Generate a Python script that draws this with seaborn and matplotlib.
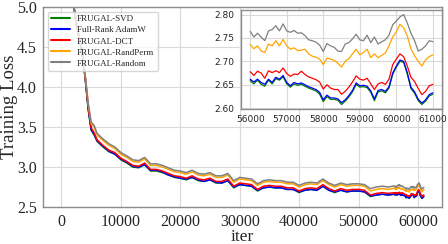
import numpy as np
import pandas as pd
import matplotlib
matplotlib.use("Agg")
import matplotlib.pyplot as plt
import seaborn as sns

# ---------------- data ----------------
labels = ["FRUGAL-SVD", "Full-Rank AdamW", "FRUGAL-DCT", "FRUGAL-RandPerm", "FRUGAL-Random"]
colors = ["green", "blue", "red", "orange", "gray"]

iters_early = [0, 500, 1000, 1500, 2000, 2500, 3000, 3500, 4000, 4500, 5000, 5500]
iters_mid = list(range(6000, 56000, 1000))
iters_fine = list(range(56000, 61001, 100))

svd_early = [10.9, 9.4, 7.7, 6.1, 5.05, 4.78, 4.60, 4.42, 4.10, 3.72, 3.46, 3.40]
adamw_early = [10.9, 9.4, 7.7, 6.1, 5.06, 4.79, 4.61, 4.43, 4.11, 3.73, 3.47, 3.41]
dct_early = [10.9, 9.4, 7.7, 6.1, 5.06, 4.79, 4.61, 4.43, 4.12, 3.75, 3.49, 3.43]
randperm_early = [10.9, 9.4, 7.7, 6.1, 5.07, 4.80, 4.62, 4.45, 4.14, 3.79, 3.54, 3.50]
random_early = [10.9, 9.4, 7.7, 6.1, 5.07, 4.80, 4.63, 4.46, 4.15, 3.80, 3.56, 3.52]

svd_mid = [3.32, 3.25, 3.19, 3.16, 3.09, 3.05, 3.00, 2.99, 3.03, 2.95, 2.95, 2.93, 2.90, 2.87,
           2.86, 2.84, 2.87, 2.83, 2.82, 2.84, 2.80, 2.80, 2.83, 2.74, 2.78, 2.77, 2.76, 2.70,
           2.74, 2.75, 2.74, 2.74, 2.72, 2.72, 2.68, 2.71, 2.72, 2.71, 2.76, 2.71, 2.68, 2.71,
           2.69, 2.70, 2.70, 2.69, 2.63, 2.65, 2.66, 2.65]
adamw_mid = [3.33, 3.26, 3.20, 3.16, 3.10, 3.06, 3.01, 3.00, 3.03, 2.96, 2.96, 2.94, 2.90, 2.88,
             2.86, 2.85, 2.87, 2.84, 2.82, 2.84, 2.81, 2.80, 2.83, 2.75, 2.78, 2.77, 2.76, 2.71,
             2.74, 2.75, 2.74, 2.74, 2.72, 2.72, 2.69, 2.71, 2.72, 2.71, 2.76, 2.71, 2.69, 2.71,
             2.69, 2.70, 2.70, 2.69, 2.64, 2.65, 2.66, 2.65]
dct_mid = [3.34, 3.27, 3.21, 3.18, 3.11, 3.07, 3.02, 3.01, 3.05, 2.97, 2.97, 2.95, 2.92, 2.89,
           2.88, 2.86, 2.89, 2.85, 2.84, 2.86, 2.82, 2.82, 2.85, 2.76, 2.80, 2.79, 2.78, 2.72,
           2.76, 2.77, 2.76, 2.76, 2.74, 2.74, 2.70, 2.73, 2.74, 2.73, 2.78, 2.73, 2.70, 2.73,
           2.71, 2.72, 2.72, 2.71, 2.65, 2.67, 2.68, 2.67]
randperm_mid = [3.40, 3.33, 3.27, 3.23, 3.16, 3.12, 3.07, 3.06, 3.10, 3.02, 3.02, 3.00, 2.97, 2.94,
                2.93, 2.91, 2.94, 2.90, 2.89, 2.91, 2.87, 2.87, 2.90, 2.81, 2.85, 2.84, 2.83, 2.77,
                2.81, 2.82, 2.81, 2.81, 2.79, 2.79, 2.75, 2.78, 2.79, 2.78, 2.83, 2.78, 2.75, 2.78,
                2.76, 2.77, 2.77, 2.76, 2.70, 2.72, 2.73, 2.72]
random_mid = [3.42, 3.35, 3.29, 3.25, 3.18, 3.14, 3.09, 3.08, 3.12, 3.04, 3.04, 3.02, 2.99, 2.96,
              2.95, 2.93, 2.96, 2.92, 2.91, 2.93, 2.89, 2.89, 2.92, 2.83, 2.87, 2.86, 2.85, 2.79,
              2.83, 2.84, 2.83, 2.83, 2.81, 2.81, 2.77, 2.80, 2.81, 2.80, 2.85, 2.80, 2.77, 2.80,
              2.78, 2.79, 2.79, 2.78, 2.73, 2.75, 2.76, 2.75]

svd_fine = [2.659, 2.652, 2.660, 2.651, 2.647, 2.660, 2.652, 2.663, 2.660, 2.667, 2.652, 2.645, 2.652,
            2.649, 2.651, 2.647, 2.643, 2.640, 2.637, 2.630, 2.614, 2.625, 2.619, 2.619, 2.617, 2.608,
            2.615, 2.624, 2.635, 2.651, 2.645, 2.646, 2.644, 2.634, 2.616, 2.635, 2.637, 2.633, 2.643,
            2.672, 2.688, 2.700, 2.698, 2.673, 2.642, 2.632, 2.616, 2.608, 2.615, 2.626, 2.630]
adamw_fine = [2.662, 2.656, 2.662, 2.655, 2.651, 2.662, 2.655, 2.666, 2.662, 2.670, 2.655, 2.648, 2.655,
              2.652, 2.654, 2.650, 2.646, 2.643, 2.640, 2.634, 2.618, 2.628, 2.622, 2.622, 2.620, 2.612,
              2.618, 2.627, 2.638, 2.654, 2.648, 2.649, 2.647, 2.637, 2.620, 2.638, 2.640, 2.636, 2.646,
              2.675, 2.690, 2.703, 2.700, 2.676, 2.645, 2.635, 2.619, 2.611, 2.618, 2.629, 2.633]
dct_fine = [2.678, 2.670, 2.679, 2.675, 2.664, 2.680, 2.676, 2.680, 2.676, 2.686, 2.674, 2.668, 2.673,
            2.672, 2.679, 2.672, 2.667, 2.664, 2.661, 2.656, 2.641, 2.650, 2.643, 2.640, 2.640, 2.630,
            2.636, 2.645, 2.656, 2.669, 2.662, 2.660, 2.664, 2.652, 2.640, 2.652, 2.655, 2.651, 2.662,
            2.693, 2.705, 2.716, 2.710, 2.690, 2.666, 2.657, 2.642, 2.629, 2.636, 2.648, 2.651]
randperm_fine = [2.736, 2.727, 2.733, 2.722, 2.719, 2.737, 2.733, 2.744, 2.733, 2.747, 2.733, 2.726, 2.729,
                 2.723, 2.724, 2.726, 2.716, 2.711, 2.709, 2.705, 2.693, 2.707, 2.705, 2.702, 2.696, 2.688,
                 2.700, 2.706, 2.716, 2.726, 2.714, 2.719, 2.726, 2.708, 2.716, 2.708, 2.713, 2.718, 2.733,
                 2.752, 2.763, 2.779, 2.772, 2.754, 2.727, 2.712, 2.700, 2.690, 2.703, 2.710, 2.714]
random_fine = [2.764, 2.752, 2.760, 2.752, 2.744, 2.765, 2.768, 2.776, 2.765, 2.780, 2.765, 2.762, 2.766,
               2.760, 2.761, 2.755, 2.746, 2.744, 2.741, 2.735, 2.721, 2.738, 2.733, 2.730, 2.722, 2.721,
               2.737, 2.740, 2.748, 2.758, 2.746, 2.744, 2.756, 2.740, 2.752, 2.737, 2.742, 2.746, 2.756,
               2.778, 2.786, 2.795, 2.800, 2.782, 2.760, 2.744, 2.722, 2.726, 2.733, 2.744, 2.742]

series = {
    "FRUGAL-SVD": (svd_early, svd_mid, svd_fine),
    "Full-Rank AdamW": (adamw_early, adamw_mid, adamw_fine),
    "FRUGAL-DCT": (dct_early, dct_mid, dct_fine),
    "FRUGAL-RandPerm": (randperm_early, randperm_mid, randperm_fine),
    "FRUGAL-Random": (random_early, random_mid, random_fine),
}

rows = []
for name, (e, m, f) in series.items():
    xs = iters_early + iters_mid + iters_fine
    ys = e + m + f
    for x, y in zip(xs, ys):
        rows.append((name, x, y))
df = pd.DataFrame(rows, columns=["method", "iter", "loss"])
df_fine = df[df["iter"] >= 56000]

palette = dict(zip(labels, colors))

# ---------------- plot ----------------
sns.set_style("whitegrid", {"grid.color": "#d9d9d9", "axes.edgecolor": "#8c8c8c"})
serif = ["Liberation Serif", "DejaVu Serif"]

fig = plt.figure(figsize=(4.48, 2.44), dpi=100)
ax = fig.add_axes([0.0967, 0.1516, 0.8899, 0.8197])

sns.lineplot(data=df, x="iter", y="loss", hue="method", hue_order=labels, palette=palette,
             estimator=None, sort=False, linewidth=1.1, ax=ax)
ax.set_ylim(2.5, 5.0)
ax.set_yticks([2.5, 3.0, 3.5, 4.0, 4.5, 5.0])
ax.set_xticks([0, 10000, 20000, 30000, 40000, 50000, 60000])
ax.set_xlabel("iter", fontsize=12.5, family=serif, labelpad=-1)
ax.set_ylabel("Training Loss", fontsize=13.5, family=serif)
ax.yaxis.set_label_coords(-0.063, 0.5)
for lab in ax.get_xticklabels() + ax.get_yticklabels():
    lab.set_fontfamily(serif)
    lab.set_fontsize(11.5)
ax.tick_params(axis="x", pad=1.5)
ax.tick_params(axis="y", pad=1.0)
for sp in ax.spines.values():
    sp.set_linewidth(1.0)

leg = ax.legend(loc="upper left", prop={"family": serif, "size": 6.5}, labelspacing=0.3,
                handlelength=2.0, borderpad=0.4, frameon=True, bbox_to_anchor=(0.0, 1.0))
for line in leg.get_lines():
    line.set_linewidth(1.5)

# inset
axins = ax.inset_axes([0.496, 0.49, 0.504, 0.495])
sns.lineplot(data=df_fine, x="iter", y="loss", hue="method", hue_order=labels, palette=palette,
             estimator=None, sort=False, linewidth=0.9, ax=axins, legend=False)
axins.set_xlabel("")
axins.set_ylabel("")
axins.set_yticks([2.60, 2.65, 2.70, 2.75, 2.80])
axins.set_yticklabels(["2.60", "2.65", "2.70", "2.75", "2.80"])
axins.set_xticks([56000, 57000, 58000, 59000, 60000, 61000])
axins.tick_params(axis="both", labelsize=6.5, pad=1)
for lab in axins.get_xticklabels() + axins.get_yticklabels():
    lab.set_fontfamily("DejaVu Sans")
for sp in axins.spines.values():
    sp.set_linewidth(1.0)
    sp.set_edgecolor("#8c8c8c")

fig.savefig("out.png", dpi=100)
